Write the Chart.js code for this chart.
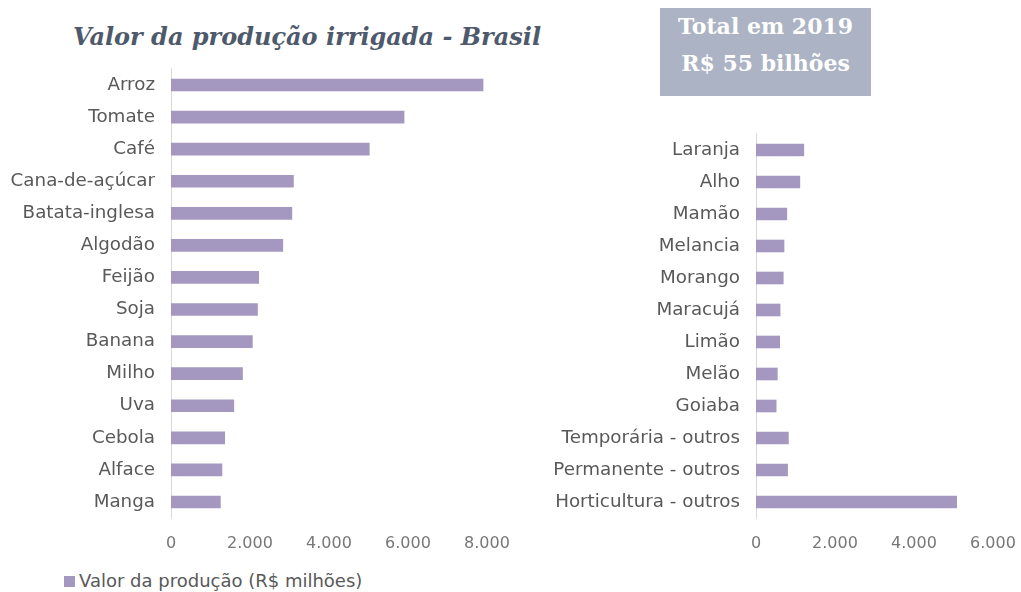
<!DOCTYPE html>
<html lang="pt-BR">
<head>
<meta charset="utf-8">
<script src="https://cdn.jsdelivr.net/npm/chart.js@4.4.1/dist/chart.umd.min.js"></script>
<style>
  body { margin: 0; background: #fff; width: 1021px; height: 592px; position: relative; overflow: hidden; }
  #titulo {
    position: absolute; left: 73px; top: 22px;
    font-family: "DejaVu Serif", serif; font-weight: bold; font-style: italic;
    font-size: 24px; color: #4e5a6c; white-space: nowrap;
  }
  #total {
    position: absolute; left: 660px; top: 8px; width: 211px; height: 88px;
    background: #abb3c5; color: #fff; text-align: center;
    font-family: "DejaVu Serif", serif; font-weight: bold; font-size: 22px; line-height: 37px;
    padding-top: 0; box-sizing: border-box;
  }
  #legenda {
    position: absolute; left: 64px; top: 570px;
    font-family: "DejaVu Sans", sans-serif; font-size: 18px; color: #595959; white-space: nowrap;
  }
  #legenda span.caixa { display: inline-block; width: 11px; height: 11px; background: #a598c0; margin-right: 4px; }
  canvas { position: absolute; }
  #graficoA { left: 0; top: 42px; }
  #graficoB { left: 540px; top: 107px; }
</style>
</head>
<body>
<div id="titulo">Valor da produção irrigada - Brasil</div>
<div id="total">Total em 2019<br>R$ 55 bilhões</div>
<canvas id="graficoA" width="520" height="518"></canvas>
<canvas id="graficoB" width="481" height="453"></canvas>
<div id="legenda"><span class="caixa"></span>Valor da produção (R$ milhões)</div>
<script>
// Culturas principais (painel da esquerda)
const culturasA = ['Arroz', 'Tomate', 'Café', 'Cana-de-açúcar', 'Batata-inglesa', 'Algodão', 'Feijão',
    'Soja', 'Banana', 'Milho', 'Uva', 'Cebola', 'Alface', 'Manga'];
const valoresA = [7900, 5900, 5020, 3100, 3060, 2830, 2220, 2190, 2060, 1810, 1590, 1360, 1290, 1250];

// Demais culturas (painel da direita)
const culturasB = ['Laranja', 'Alho', 'Mamão', 'Melancia', 'Morango', 'Maracujá', 'Limão', 'Melão',
    'Goiaba', 'Temporária - outros', 'Permanente - outros', 'Horticultura - outros'];
const valoresB = [1210, 1110, 780, 710, 690, 610, 600, 540, 510, 820, 800, 5080];

const maxA = 8000;
const maxB = 6000;
const passo = 2000;

const corBarra = '#a598c0';
const corTexto = '#595959';

function milhar(v) {
    return String(v).replace(/\B(?=(\d{3})+(?!\d))/g, '.');
}

function criarGrafico(id, rotulos, valores, max, larguraEixo, padding) {
    return new Chart(document.getElementById(id), {
        type: 'bar',
        data: {
            labels: rotulos,
            datasets: [{
                label: 'Valor da produção (R$ milhões)',
                data: valores,
                backgroundColor: corBarra,
                barThickness: 12
            }]
        },
        options: {
            indexAxis: 'y',
            responsive: false,
            animation: false,
            layout: { padding: padding },
            plugins: {
                legend: { display: false },
                tooltip: { enabled: false }
            },
            scales: {
                x: {
                    min: 0,
                    max: max,
                    grid: { display: false, drawTicks: false },
                    border: { display: false },
                    ticks: {
                        stepSize: passo,
                        padding: 16,
                        color: '#777',
                        font: { family: 'DejaVu Sans', size: 16 },
                        callback: v => milhar(v)
                    },
                    // the layout padding already leaves room for the last tick label
                    afterFit: s => { s.height = 42; s.paddingLeft = 0; s.paddingRight = 0; }
                },
                y: {
                    grid: { display: false, drawTicks: false },
                    border: { display: true, color: '#d9d9d9', width: 1 },
                    ticks: {
                        padding: 16,
                        color: corTexto,
                        font: { family: 'DejaVu Sans', size: 18.3 }
                    },
                    afterFit: s => { s.width = larguraEixo; }
                }
            }
        }
    });
}

criarGrafico('graficoA', culturasA, valoresA, maxA, 171, { top: 0, right: 33, left: 0, bottom: 0 });
criarGrafico('graficoB', culturasB, valoresB, maxB, 216, { top: 0, right: 28, left: 0, bottom: 0 });
</script>
</body>
</html>
